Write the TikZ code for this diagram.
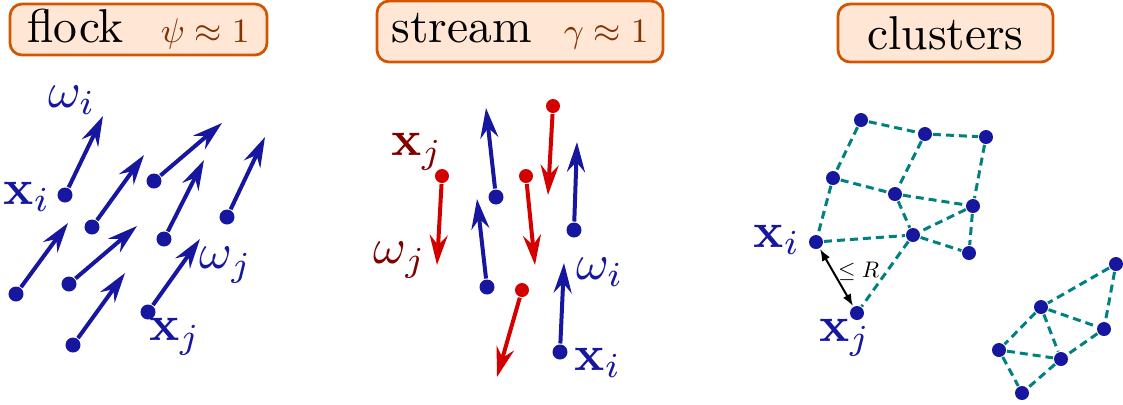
\RequirePackage{fix-cm}
\documentclass[tikz,border=0pt]{standalone}
\usepackage{tikz}
\usetikzlibrary{arrows.meta}
\usepackage{amsmath,amssymb}
\definecolor{dotblue}{RGB}{22,22,158}
\definecolor{vecred}{RGB}{212,0,0}
\definecolor{lblred}{RGB}{128,0,0}
\definecolor{linkteal}{RGB}{0,128,128}
\definecolor{boxorange}{RGB}{212,85,0}
\definecolor{boxfill}{RGB}{255,230,213}
\definecolor{mathbrown}{RGB}{128,51,0}
\tikzset{
  titlebox/.style={draw=boxorange,fill=boxfill,line width=0.55pt,rounded corners=2.4pt,
    inner sep=0pt,font=\fontsize{9.5}{11}\selectfont},
  bdot/.style={circle,fill=dotblue,inner sep=0pt,minimum size=3pt},
  rdot/.style={circle,fill=vecred,inner sep=0pt,minimum size=2.8pt},
  bvec/.style={dotblue,line width=0.8pt,-{Stealth[length=6pt,width=3.6pt,inset=2pt]}},
  rvec/.style={vecred,line width=0.8pt,-{Stealth[length=6pt,width=3.6pt,inset=2pt]}},
  link/.style={linkteal,line width=0.6pt,dash pattern=on 1.6pt off 1pt},
  lbl/.style={inner sep=0pt,font=\fontsize{10}{12}\selectfont}
}
\newcommand{\orderpar}[1]{\scalebox{0.72}{\color{mathbrown}$#1\approx1$}}

\begin{document}
\begin{tikzpicture}[x=0.2pt,y=-0.2pt]
\useasboundingbox (0,0) rectangle (1123,404);
% Titles
\node[titlebox,minimum width=51.4pt,minimum height=10.2pt] (tflock) at (138.5,29.5)
  {flock\hspace{7.4pt}\orderpar{\psi}};
\node[titlebox,minimum width=57.2pt,minimum height=12.2pt] (tstream) at (520,31.5)
  {stream\hspace{6.4pt}\orderpar{\gamma}};
\node[titlebox,minimum width=43pt,minimum height=11.6pt] (tclust) at (945.5,33) {clusters};

% Flock: aligned headings
\foreach \n/\x/\y/\u/\v in {1/65/195/103/116,2/92/227/144/155,3/154/181/222/123,
    4/227/217/265/137,5/164/239/204/160,6/16/294/68/223,7/69/284/137/226,
    8/73/345/125/273,9/148/312/200/239} {
  \node[bdot] (f\n) at (\x,\y) {};
  \coordinate (f\n t) at (\u,\v);
  \draw[bvec] (f\n) -- (f\n t);
}
\node[lbl,text=dotblue] (fwi) at (72,100) {$\omega_i$};
\node[lbl,text=dotblue] (fxi) at (27,197) {$\mathbf{x}_i$};
\node[lbl,text=dotblue] (fwj) at (226,265) {$\omega_j$};
\node[lbl,text=dotblue] (fxj) at (175,337) {$\mathbf{x}_j$};

% Stream: two opposite groups
\foreach \n/\x/\y/\u/\v in {1/553/106/548/195,2/442/176/437/265,3/526/176/535/265,4/522/290/497/377} {
  \node[rdot] (r\n) at (\x,\y) {};
  \coordinate (r\n t) at (\u,\v);
  \draw[rvec] (r\n) -- (r\n t);
}
\foreach \n/\x/\y/\u/\v in {1/496/197/486/108,2/487/287/477/199,3/574/230/577/142,4/560/352/564/263} {
  \node[bdot] (s\n) at (\x,\y) {};
  \coordinate (s\n t) at (\u,\v);
  \draw[bvec] (s\n) -- (s\n t);
}
\node[lbl,text=lblred] (sxj) at (417,152) {$\mathbf{x}_j$};
\node[lbl,text=lblred] (swj) at (400,260) {$\omega_j$};
\node[lbl,text=dotblue] (swi) at (600,272) {$\omega_i$};
\node[lbl,text=dotblue] (sxi) at (598,363) {$\mathbf{x}_i$};

% Clusters
\foreach \n/\x/\y in {c1/861/120,c2/925/134,c3/986/137,c4/833/178,c5/895/194,c6/973/206,
    c7/816/242,c8/913/235,c9/969/253,c10/857/313,
    d1/1116/264,d2/1041/307,d3/1104/329,d4/999/350,d5/1061/359,d6/1022/393}
  \node[bdot,minimum size=2.8pt] (\n) at (\x,\y) {};
\foreach \a/\b in {c1/c2,c2/c3,c1/c4,c2/c5,c3/c6,c4/c5,c5/c6,c4/c7,c5/c8,c6/c8,c6/c9,
    c7/c8,c8/c9,c8/c10,d1/d2,d1/d3,d2/d3,d2/d4,d2/d5,d4/d5,d3/d5,d4/d6,d5/d6}
  \draw[link] (\a) -- (\b);
\draw[line width=0.4pt,{Latex[length=2.4pt,width=1.8pt]}-{Latex[length=2.4pt,width=1.8pt]}]
  (c7) -- node[pos=0.4,right=0.8pt,inner sep=0pt] (rlbl) {\scalebox{0.45}{$\le R$}} (c10);
\node[lbl,text=dotblue] (cxi) at (777,240) {$\mathbf{x}_i$};
\node[lbl,text=dotblue] (cxj) at (845,338) {$\mathbf{x}_j$};
\end{tikzpicture}
\end{document}
